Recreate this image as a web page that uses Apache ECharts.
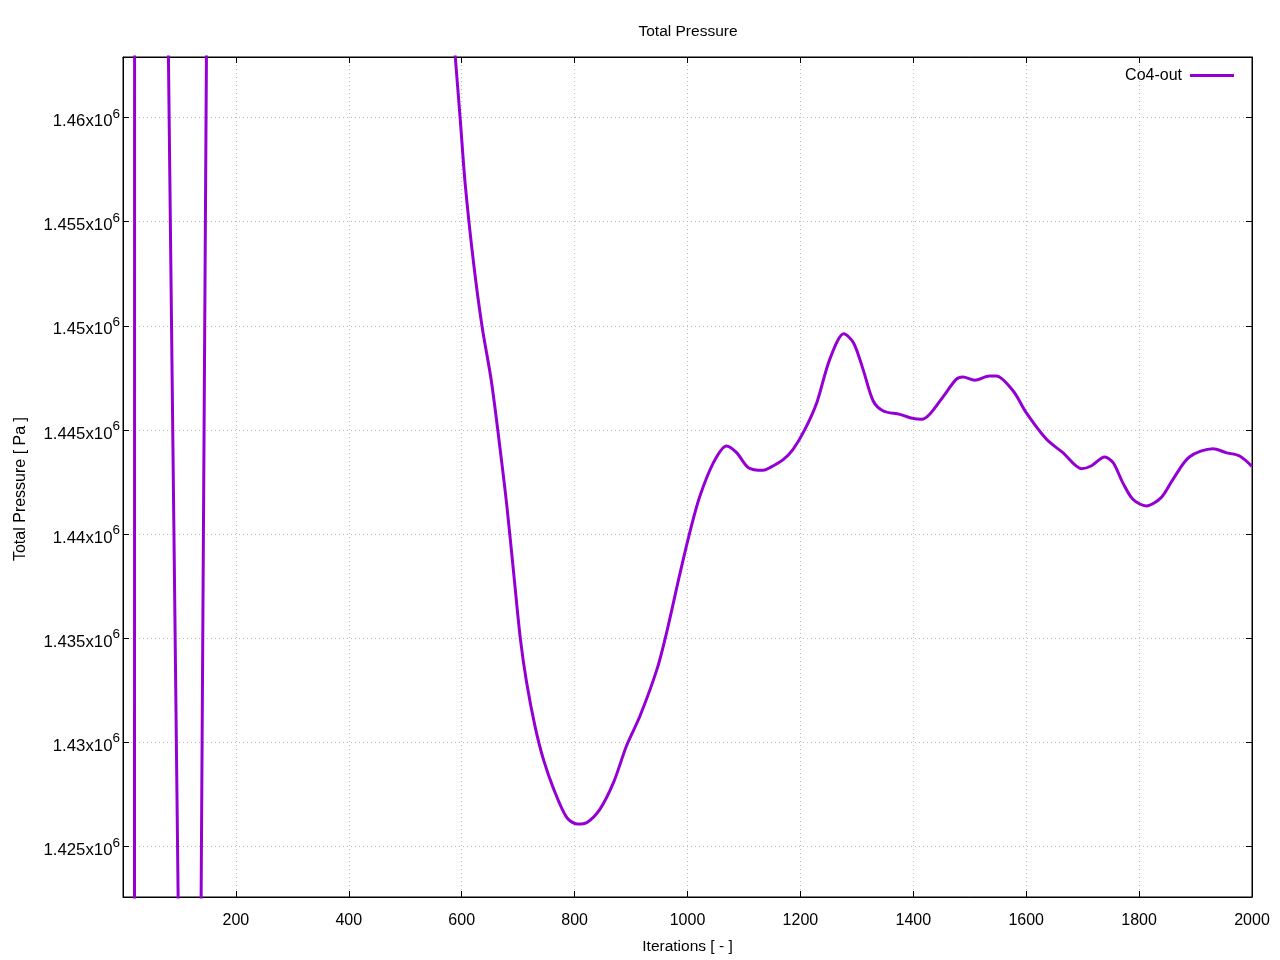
<!DOCTYPE html>
<html>
<head>
<meta charset="utf-8">
<title>Total Pressure</title>
<script src="https://cdn.jsdelivr.net/npm/echarts@6/dist/echarts.min.js"></script>
<style>
  html, body { margin: 0; padding: 0; background: #fff; }
  #chart { width: 1280px; height: 960px; }
</style>
</head>
<body>
<div id="chart"></div>
<script>
// iterations and total pressure [Pa]
// (the first points lie outside the plotted range, only their crossing lines show)
const iterations = [1, 19, 20, 21, 22, 70, 72, 108, 110, 128, 130, 155, 157, 300, 450, 540, 570, 597, 606, 621,
  636, 653, 671, 680, 692, 704, 715, 730, 745, 763, 786, 805, 822, 845, 869, 892, 916, 946, 963, 987,
  1007, 1022, 1046, 1069, 1087, 1108, 1134, 1146, 1170, 1187, 1208, 1229, 1252, 1277, 1294, 1311, 1329,
  1347, 1376, 1394, 1415, 1429, 1453, 1476, 1488, 1509, 1535, 1547, 1577, 1600, 1636, 1665, 1698, 1715,
  1739, 1754, 1771, 1789, 1813, 1839, 1860, 1889, 1931, 1954, 1978, 2000]
const pressure = [1000000, 1000000, 1300000, 1600000, 1900000, 1487540, 1482850, 1398410, 1393720, 1377930,
  1386510, 1493820, 1502400, 1490000, 1484000, 1477000, 1469000, 1460060, 1456870, 1453030,
  1449980, 1447270, 1443430, 1441350, 1438150, 1434950, 1432870, 1430750, 1429150, 1427750,
  1426390, 1426070, 1426150, 1426790, 1428070, 1429830, 1431270, 1433510, 1435270, 1438150,
  1440390, 1441830, 1443430, 1444230, 1443910, 1443190, 1443060, 1443190, 1443590, 1444070,
  1445030, 1446310, 1448390, 1449620, 1449190, 1447910, 1446390, 1445910, 1445750, 1445590,
  1445510, 1445750, 1446600, 1447430, 1447540, 1447390, 1447590, 1447590, 1446870, 1445830,
  1444550, 1443910, 1443140, 1443270, 1443700, 1443430, 1442470, 1441670, 1441350, 1441750,
  1442630, 1443700, 1444100, 1443910, 1443750, 1443250]
const seriesName = 'Co4-out'

const xMin = 0
const xMax = 2000
const yMin = 1422567
const yMax = 1462913

const font = 'Liberation Sans, Arial, sans-serif'

const chartDom = document.getElementById('chart')
const myChart = echarts.init(chartDom)

const tickStyle = {
  show: true,
  inside: true,
  length: 6,
  lineStyle: { color: '#000', width: 1 }
}
const axisLine = { show: true, onZero: false, lineStyle: { color: '#000' } }
const gridLine = {
  show: true,
  lineStyle: { color: '#bbbbbb', width: 1, type: [1, 3] }
}

const option = {
  animation: false,
  title: {
    text: 'Total Pressure',
    left: 688,
    textAlign: 'center',
    top: 24,
    padding: 0,
    textStyle: { fontFamily: font, fontSize: 15.5, fontWeight: 'normal', color: '#000' }
  },
  legend: {
    data: [seriesName],
    right: 46,
    top: 67.5,
    padding: 0,
    align: 'right',
    icon: 'rect',
    itemWidth: 44,
    itemHeight: 3,
    textStyle: { fontFamily: font, fontSize: 16, color: '#000', padding: [0, 3, 0, 0] }
  },
  grid: {
    left: 123,
    right: 28,
    top: 57,
    bottom: 62,
    show: true,
    borderColor: '#000',
    borderWidth: 1
  },
  xAxis: [
    {
      type: 'value',
      min: xMin,
      max: xMax,
      interval: 200,
      name: 'Iterations [ - ]',
      nameLocation: 'middle',
      nameGap: 42,
      nameTextStyle: { fontFamily: font, fontSize: 15.5, color: '#000' },
      axisLine: axisLine,
      axisTick: tickStyle,
      splitLine: gridLine,
      axisLabel: {
        margin: 16,
        fontFamily: font,
        fontSize: 16,
        color: '#000',
        formatter: v => (v === 0 ? '' : String(v))
      }
    },
    {
      type: 'value',
      position: 'top',
      min: xMin,
      max: xMax,
      interval: 200,
      axisLine: axisLine,
      axisTick: tickStyle,
      splitLine: { show: false },
      axisLabel: { show: false }
    }
  ],
  yAxis: [
    {
      type: 'value',
      min: yMin,
      max: yMax,
      minInterval: 5000,
      maxInterval: 5000,
      axisLine: axisLine,
      axisTick: tickStyle,
      splitLine: gridLine,
      axisLabel: {
        showMinLabel: false,
        showMaxLabel: false,
        margin: 3,
        padding: [9, 0, 0, 0],
        color: '#000',
        formatter: v => {
          if (v % 5000 !== 0) return ''
          return '{a|' + (v / 1e6) + 'x10}{b|6}'
        },
        rich: {
          a: { fontFamily: font, fontSize: 16.8, lineHeight: 16, color: '#000', verticalAlign: 'bottom' },
          b: { fontFamily: font, fontSize: 13.5, lineHeight: 13, color: '#000', verticalAlign: 'bottom', padding: [0, 0, 9, 0] }
        }
      }
    },
    {
      type: 'value',
      position: 'right',
      min: yMin,
      max: yMax,
      minInterval: 5000,
      maxInterval: 5000,
      axisLine: axisLine,
      axisTick: tickStyle,
      splitLine: { show: false },
      axisLabel: { show: false }
    }
  ],
  graphic: [
    {
      type: 'text',
      x: 21,
      y: 489,
      rotation: Math.PI / 2,
      style: {
        text: 'Total Pressure [ Pa ]',
        fontFamily: font,
        fontSize: 16,
        fill: '#000',
        textAlign: 'center',
        textVerticalAlign: 'middle'
      }
    }
  ],
  series: [
    {
      name: seriesName,
      type: 'line',
      xAxisIndex: 0,
      yAxisIndex: 0,
      data: iterations.map((it, i) => [it, pressure[i]]),
      showSymbol: false,
      symbol: 'none',
      smooth: 0.3,
      clip: true,
      color: '#9400d3',
      lineStyle: { color: '#9400d3', width: 3 }
    }
  ]
}
myChart.setOption(option)
</script>
</body>
</html>
